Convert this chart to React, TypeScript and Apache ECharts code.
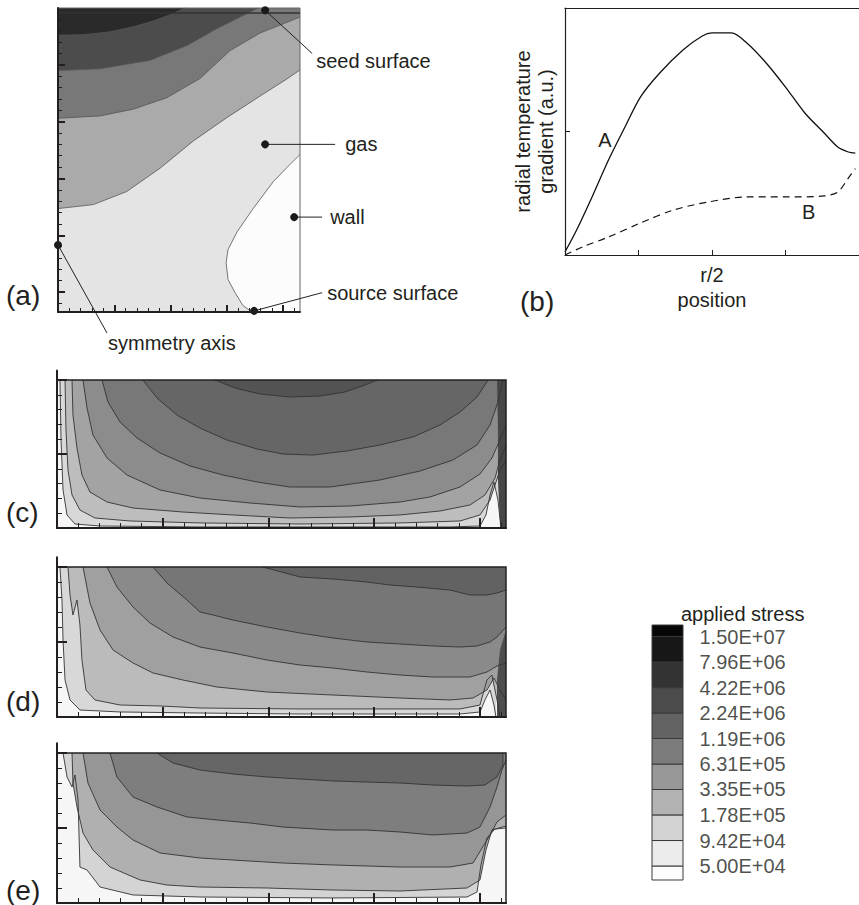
import React, { useEffect, useRef } from 'react';
import * as echarts from 'echarts';

const FONT = '"Liberation Sans", Arial, Helvetica, sans-serif';
const INK = '#231f20';

// ---------------- Panel (a): growth cell, contour lines in axis units ----------------
const A_X = [0, 4.3];
const A_Y = [-0.35, 5];
const A_CURVE_1 = [[0, 4.52], [0.45, 4.53], [0.92, 4.58], [1.34, 4.67], [1.69, 4.77], [1.99, 4.88], [2.26, 5]];
const A_CURVE_2 = [[0, 3.9], [0.747, 3.93], [1.636, 4.08], [2.293, 4.34], [2.827, 4.64], [3.236, 4.84], [3.556, 5]];
const A_CURVE_3 = [[0, 3.06], [0.747, 3.1], [1.339, 3.22], [1.932, 3.42], [2.524, 3.76], [3.058, 4.25], [3.591, 4.56], [3.947, 4.7], [4.3, 4.84]];
const A_CURVE_4 = [[0, 1.47], [0.628, 1.54], [1.221, 1.77], [1.813, 2.18], [2.405, 2.66], [2.999, 3.07], [3.591, 3.45], [4.066, 3.75], [4.3, 3.91]];
const A_CURVE_5 = [[4.3, 2.42], [4.124, 2.25], [3.822, 1.94], [3.467, 1.47], [3.182, 1.06], [3.022, 0.75], [2.987, 0.52], [3.022, 0.22], [3.147, -0.01], [3.289, -0.24], [3.449, -0.35]];
const A_SEED_LINE = [[0, 4.91], [4.3, 4.91]];
const A_MAJOR_X = [1, 2, 3, 4];
const A_MINOR_X = [0.2, 0.4, 0.6, 0.8, 1.2, 1.4, 1.6, 1.8, 2.2, 2.4, 2.6, 2.8, 3.2, 3.4, 3.6, 3.8, 4.2];
const A_MAJOR_Y = [0, 1, 2, 3, 4];
const A_MINOR_Y = [-0.2, 0.2, 0.4, 0.6, 0.8, 1.2, 1.4, 1.6, 1.8, 2.2, 2.4, 2.6, 2.8, 3.2, 3.4, 3.6, 3.8, 4.2, 4.4, 4.6, 4.8];
const A_ANNOT_TEXT = ['seed surface', 'gas', 'wall', 'source surface', 'symmetry axis'];
const A_ANNOT_DOT = [[3.68, 4.96], [3.68, 2.6], [4.196, 1.32], [3.484, -0.33], [0, 0.83]];
const A_ANNOT_END = [[4.516, 4.2], [4.924, 2.6], [4.693, 1.32], [4.693, -0.01], [0.871, -0.72]];
const A_ANNOT_AT = [[4.587, 4.076], [5.102, 2.6], [4.836, 1.32], [4.782, -0.01], [0.889, -0.9]];

// ---------------- Panel (b): radial temperature gradient ----------------
const B_X = [0, 4];
const B_Y = [0, 2];
const B_CURVE_A = [[0, 0.024], [0.158, 0.202], [0.368, 0.47], [0.592, 0.769], [0.816, 1.036], [1.026, 1.279], [1.289, 1.474], [1.605, 1.66], [1.868, 1.773], [2.0, 1.798], [2.263, 1.798], [2.474, 1.717], [2.737, 1.555], [3.0, 1.36], [3.263, 1.15], [3.526, 0.988], [3.711, 0.874], [3.855, 0.834], [3.95, 0.825]];
const B_CURVE_B = [[0, 0], [0.238, 0.065], [0.592, 0.146], [1.026, 0.259], [1.474, 0.364], [1.947, 0.429], [2.474, 0.47], [3.0, 0.47], [3.526, 0.478], [3.711, 0.51], [3.855, 0.623], [3.95, 0.7]];
const B_TICKS_X = [1, 2, 3];
const B_LABEL_X = [2];
const B_TICKS_Y = [1];
const B_CURVE_NAMES = ['A', 'B'];
const B_CURVE_NAME_AT = [[0.542, 0.931], [3.316, 0.348]];

// ---------------- Panels (c), (d), (e): applied stress contours ----------------
const S_X = [0, 4.246];
const S_Y = [0, 2];
const S_AXIS_YMAX = 2.13;
const S_MAJOR_X = [1, 2, 3, 4];
const S_MINOR_X = [0.2, 0.4, 0.6, 0.8, 1.2, 1.4, 1.6, 1.8, 2.2, 2.4, 2.6, 2.8, 3.2, 3.4, 3.6, 3.8, 4.2];
const S_MAJOR_Y = [1, 2];
const S_MINOR_Y = [0.2, 0.4, 0.6, 0.8, 1.2, 1.4, 1.6, 1.8];

const C_LINE_0 = [[1.494, 2.0], [1.683, 1.892], [1.92, 1.811], [2.203, 1.77], [2.487, 1.784], [2.723, 1.838], [2.913, 1.932], [3.026, 2.0]];
const C_LINE_1 = [[0.813, 2.0], [0.946, 1.757], [1.135, 1.527], [1.352, 1.351], [1.608, 1.189], [1.891, 1.068], [2.137, 1.0], [2.421, 0.986], [2.742, 1.041], [3.054, 1.122], [3.366, 1.23], [3.622, 1.392], [3.811, 1.568], [3.972, 1.77], [4.076, 2.0]];
const C_LINE_2 = [[0.426, 2.0], [0.482, 1.703], [0.596, 1.432], [0.757, 1.216], [0.974, 1.014], [1.258, 0.838], [1.57, 0.716], [1.891, 0.622], [2.203, 0.554], [2.582, 0.554], [3.054, 0.649], [3.433, 0.77], [3.745, 0.919], [3.972, 1.122], [4.095, 1.392], [4.17, 1.703], [4.217, 2.0]];
const C_LINE_3 = [[0.246, 2.0], [0.284, 1.622], [0.34, 1.257], [0.473, 0.946], [0.662, 0.716], [0.974, 0.514], [1.352, 0.405], [1.825, 0.338], [2.298, 0.284], [2.771, 0.297], [3.243, 0.351], [3.527, 0.419], [3.811, 0.554], [4.0, 0.73], [4.113, 0.946], [4.189, 1.189], [4.246, 1.392]];
const C_LINE_4 = [[0.142, 2.0], [0.151, 1.527], [0.189, 1.081], [0.236, 0.716], [0.312, 0.486], [0.473, 0.351], [0.719, 0.27], [1.191, 0.216], [1.664, 0.176], [2.203, 0.135], [2.771, 0.149], [3.243, 0.176], [3.622, 0.23], [3.905, 0.311], [4.047, 0.446], [4.142, 0.676], [4.189, 0.919], [4.246, 1.122]];
const C_LINE_5 = [[0.076, 2.0], [0.085, 1.324], [0.104, 0.784], [0.142, 0.446], [0.217, 0.243], [0.359, 0.135], [0.69, 0.095], [1.352, 0.068], [2.298, 0.054], [3.243, 0.068], [3.811, 0.095], [4.0, 0.176], [4.095, 0.378], [4.142, 0.581], [4.189, 0.784], [4.246, 0.919]];
const C_LINE_6 = [[0.028, 2.0], [0.038, 1.189], [0.057, 0.514], [0.095, 0.176], [0.17, 0.054], [0.407, 0.027], [1.352, 0.014], [3.716, 0.014], [4.0, 0.027], [4.057, 0.176], [4.095, 0.446], [4.132, 0.622], [4.17, 0.378], [4.189, 0.135], [4.208, 0]];
const C_WALL = [[4.161, 2.0], [4.17, 1.324], [4.17, 0.649], [4.19, 0]];

const D_LINE_1 = [[1.948, 2.0], [2.298, 1.867], [2.61, 1.84], [2.931, 1.8], [3.149, 1.76], [3.404, 1.733], [3.716, 1.693], [3.905, 1.627], [4.066, 1.627], [4.161, 1.653], [4.246, 1.693]];
const D_LINE_2 = [[0.908, 2.0], [1.04, 1.787], [1.229, 1.56], [1.352, 1.4], [1.475, 1.36], [1.664, 1.293], [1.986, 1.2], [2.298, 1.12], [2.61, 1.053], [2.931, 1.0], [3.243, 0.973], [3.556, 0.947], [3.811, 0.933], [3.972, 0.947], [4.095, 1.0], [4.161, 1.067], [4.246, 1.2]];
const D_LINE_3 = [[0.473, 2.0], [0.567, 1.733], [0.719, 1.467], [0.879, 1.253], [1.097, 1.067], [1.352, 0.933], [1.664, 0.853], [1.986, 0.76], [2.298, 0.693], [2.61, 0.653], [2.931, 0.6], [3.243, 0.56], [3.556, 0.533], [3.905, 0.533], [4.066, 0.6], [4.161, 0.68], [4.246, 0.72]];
const D_LINE_4 = [[0.246, 2.0], [0.312, 1.52], [0.407, 1.16], [0.53, 0.893], [0.719, 0.72], [0.908, 0.587], [1.191, 0.493], [1.513, 0.4], [1.986, 0.333], [2.61, 0.293], [3.243, 0.253], [3.716, 0.227], [3.934, 0.253], [4.066, 0.36], [4.132, 0.52], [4.189, 0.36], [4.246, 0.227]];
const D_LINE_5 = [[0.104, 2.0], [0.123, 1.627], [0.151, 1.36], [0.189, 1.56], [0.217, 1.227], [0.236, 0.76], [0.274, 0.36], [0.359, 0.227], [0.596, 0.16], [0.974, 0.147], [1.352, 0.12], [2.298, 0.107], [3.243, 0.107], [3.811, 0.107], [4.0, 0.16], [4.066, 0.493], [4.113, 0.56], [4.161, 0.227], [4.189, 0]];
const D_LINE_6 = [[0.028, 2.0], [0.047, 1.56], [0.057, 1.027], [0.076, 0.493], [0.123, 0.227], [0.217, 0.093], [0.596, 0.067], [1.352, 0.053], [2.298, 0.04], [3.811, 0.04], [4.0, 0.067], [4.047, 0.227], [4.095, 0.36], [4.132, 0.16], [4.151, 0]];
const D_WALL = [[4.246, 1.16], [4.189, 0.893], [4.161, 0.493], [4.161, 0]];

const E_LINE_1 = [[0.946, 2.0], [1.097, 1.867], [1.352, 1.773], [1.664, 1.72], [1.986, 1.68], [2.298, 1.653], [2.61, 1.627], [2.931, 1.613], [3.243, 1.6], [3.556, 1.573], [3.877, 1.56], [4.047, 1.573], [4.161, 1.68], [4.217, 1.84], [4.217, 2.0]];
const E_LINE_2 = [[0.501, 2.0], [0.567, 1.68], [0.719, 1.413], [0.946, 1.28], [1.229, 1.147], [1.513, 1.107], [1.825, 1.067], [2.137, 1.013], [2.61, 0.973], [2.931, 0.973], [3.243, 0.947], [3.556, 0.907], [3.877, 0.933], [4.0, 1.013], [4.095, 1.28], [4.161, 1.547], [4.208, 1.773], [4.246, 1.907]];
const E_LINE_3 = [[0.246, 2.0], [0.293, 1.6], [0.407, 1.24], [0.567, 1.013], [0.719, 0.84], [0.974, 0.667], [1.352, 0.6], [1.664, 0.573], [2.137, 0.533], [2.61, 0.507], [3.243, 0.48], [3.716, 0.48], [3.934, 0.533], [4.095, 0.907], [4.161, 1.08], [4.246, 1.173]];
const E_LINE_4 = [[0.142, 2.0], [0.151, 1.6], [0.189, 1.28], [0.246, 0.933], [0.34, 0.707], [0.501, 0.48], [0.785, 0.307], [1.04, 0.24], [1.352, 0.213], [1.986, 0.2], [2.61, 0.173], [3.243, 0.16], [3.877, 0.2], [4.0, 0.307], [4.057, 0.707], [4.113, 0.973], [4.246, 1.027]];
const E_LINE_5 = [[0.057, 2.0], [0.095, 1.68], [0.142, 1.547], [0.17, 1.707], [0.199, 1.373], [0.217, 0.48], [0.284, 0.44], [0.407, 0.213], [0.719, 0.107], [1.352, 0.08], [2.61, 0.067], [3.877, 0.08], [3.972, 0.147], [4.009, 0.507], [4.066, 0.867], [4.142, 0.987], [4.246, 1.0]];

// ---------------- Legend: applied stress levels ----------------
const LEGEND_EDGES = [3.53e4, 5.0e4, 9.42e4, 1.78e5, 3.35e5, 6.31e5, 1.19e6, 2.24e6, 4.22e6, 7.96e6, 1.5e7, 2.0e7];
const LEGEND_LEVELS = [1.5e7, 7.96e6, 4.22e6, 2.24e6, 1.19e6, 6.31e5, 3.35e5, 1.78e5, 9.42e4, 5.0e4];
const LEGEND_COLORS = ['#fcfcfc', '#ececec', '#d2d2d2', '#b3b3b3', '#989898', '#7c7c7c', '#636363', '#4b4b4b', '#333333', '#171717', '#070707'];

type Layer = { pts: number[][]; fill: string; close: 'top' | 'right'; stroke: boolean };

function fmtSci(v: number): string {
  const s = v.toExponential(2).toUpperCase();
  return s.replace(/E([+-])(\d)$/, 'E$10$2');
}

function contourSeries(axis: number, layers: Layer[], dx: number[], dy: number[], lineColor: string, lineWidth: number, frameColor: string, frameWidth: number) {
  return {
    type: 'custom',
    xAxisIndex: axis,
    yAxisIndex: axis,
    silent: true,
    z: 2,
    data: [[dx[0], dy[0]]],
    renderItem: (_p: any, api: any) => {
      const children: any[] = [];
      layers.forEach((L) => {
        const first = L.pts[0];
        const last = L.pts[L.pts.length - 1];
        const ring = L.close === 'top'
          ? [...L.pts, [last[0], dy[1]], [first[0], dy[1]]]
          : [...L.pts, [dx[1], last[1]], [dx[1], first[1]]];
        children.push({ type: 'polygon', shape: { points: ring.map((p) => api.coord(p)) }, style: { fill: L.fill } });
      });
      layers.forEach((L) => {
        if (!L.stroke) return;
        children.push({ type: 'polyline', shape: { points: L.pts.map((p) => api.coord(p)) }, style: { stroke: lineColor, lineWidth, fill: 'none' } });
      });
      const frame = [[dx[0], dy[0]], [dx[1], dy[0]], [dx[1], dy[1]], [dx[0], dy[1]]];
      children.push({ type: 'polygon', shape: { points: frame.map((p) => api.coord(p)) }, style: { fill: 'none', stroke: frameColor, lineWidth: frameWidth } });
      return { type: 'group', children };
    },
  };
}

function majorAxis(grid: number, min: number, max: number, ticks: number[], len: number, width: number) {
  return {
    gridIndex: grid, type: 'value', min, max, z: 10,
    axisLine: { show: true, onZero: false, lineStyle: { color: INK, width } },
    axisTick: { show: true, inside: true, length: len, customValues: ticks, lineStyle: { color: INK, width } },
    axisLabel: { show: false }, splitLine: { show: false },
  };
}
function minorAxis(grid: number, min: number, max: number, ticks: number[], len: number) {
  return {
    gridIndex: grid, type: 'value', min, max, z: 10,
    axisLine: { show: false, onZero: false },
    axisTick: { show: true, inside: true, length: len, customValues: ticks, lineStyle: { color: INK, width: 1 } },
    axisLabel: { show: false }, splitLine: { show: false },
  };
}

function buildOption() {
  const aGrid = { left: 58, top: 8, width: 242, height: 304 };
  const cGrid = { left: 57, top: 370.4, width: 449, height: 157.6 };
  const dGrid = { left: 57, top: 557.25, width: 449, height: 159.75 };
  const eGrid = { left: 57, top: 743.25, width: 449, height: 159.75 };

  const aLayers: Layer[] = [
    { pts: [[A_X[0], A_Y[0]], [A_X[1], A_Y[0]]], fill: '#e4e4e4', close: 'top', stroke: false },
    { pts: A_CURVE_5, fill: '#fcfcfc', close: 'right', stroke: true },
    { pts: A_CURVE_4, fill: '#aaaaaa', close: 'top', stroke: true },
    { pts: A_CURVE_3, fill: '#787878', close: 'top', stroke: true },
    { pts: A_CURVE_2, fill: '#4c4c4c', close: 'top', stroke: true },
    { pts: A_CURVE_1, fill: '#2a2a2a', close: 'top', stroke: true },
  ];
  const base = (): Layer => ({ pts: [[S_X[0], S_Y[0]], [S_X[1], S_Y[0]]], fill: '#f6f6f6', close: 'top', stroke: false });
  const cLayers: Layer[] = [
    base(),
    { pts: C_LINE_6, fill: '#d8d8d8', close: 'top', stroke: true },
    { pts: C_LINE_5, fill: '#bdbdbd', close: 'top', stroke: true },
    { pts: C_LINE_4, fill: '#a3a3a3', close: 'top', stroke: true },
    { pts: C_LINE_3, fill: '#8c8c8c', close: 'top', stroke: true },
    { pts: C_LINE_2, fill: '#787878', close: 'top', stroke: true },
    { pts: C_LINE_1, fill: '#666666', close: 'top', stroke: true },
    { pts: C_LINE_0, fill: '#535353', close: 'top', stroke: true },
    { pts: C_WALL, fill: '#474747', close: 'right', stroke: false },
  ];
  const dLayers: Layer[] = [
    base(),
    { pts: D_LINE_6, fill: '#d8d8d8', close: 'top', stroke: true },
    { pts: D_LINE_5, fill: '#bbbbbb', close: 'top', stroke: true },
    { pts: D_LINE_4, fill: '#a0a0a0', close: 'top', stroke: true },
    { pts: D_LINE_3, fill: '#8a8a8a', close: 'top', stroke: true },
    { pts: D_LINE_2, fill: '#767676', close: 'top', stroke: true },
    { pts: D_LINE_1, fill: '#626262', close: 'top', stroke: true },
    { pts: D_WALL, fill: '#4e4e4e', close: 'right', stroke: false },
  ];
  const eLayers: Layer[] = [
    base(),
    { pts: E_LINE_5, fill: '#d4d4d4', close: 'top', stroke: true },
    { pts: E_LINE_4, fill: '#b0b0b0', close: 'top', stroke: true },
    { pts: E_LINE_3, fill: '#969696', close: 'top', stroke: true },
    { pts: E_LINE_2, fill: '#7e7e7e', close: 'top', stroke: true },
    { pts: E_LINE_1, fill: '#666666', close: 'top', stroke: true },
  ];

  const titleStyle = { fontSize: 28, fontWeight: 'normal', color: INK, fontFamily: FONT, lineHeight: 32 };

  return {
    animation: false,
    backgroundColor: '#ffffff',
    textStyle: { fontFamily: FONT, color: INK },
    title: [
      { text: '(a)', left: 6, top: 279, padding: 0, textStyle: titleStyle },
      { text: '(b)', left: 520, top: 285, padding: 0, textStyle: titleStyle },
      { text: '(c)', left: 6, top: 496, padding: 0, textStyle: titleStyle },
      { text: '(d)', left: 6, top: 685, padding: 0, textStyle: titleStyle },
      { text: '(e)', left: 6, top: 874, padding: 0, textStyle: titleStyle },
      { text: 'applied stress', left: 681, top: 602, padding: 0, textStyle: { fontSize: 20, fontWeight: 'normal', color: INK, fontFamily: FONT, lineHeight: 24 } },
    ],
    grid: [
      aGrid,
      { left: 565, top: 8, width: 303, height: 247 },
      cGrid, dGrid, eGrid,
      { left: 652, top: 625, width: 31, height: 255 },
      aGrid, cGrid, dGrid, eGrid,
    ],
    xAxis: [
      majorAxis(0, A_X[0], A_X[1], A_MAJOR_X, 7, 2),
      {
        gridIndex: 1, type: 'value', min: B_X[0], max: B_X[1], z: 10,
        axisLine: { show: true, onZero: false, lineStyle: { color: INK, width: 1.2 } },
        axisTick: { show: true, inside: true, length: 5, customValues: B_TICKS_X, lineStyle: { color: INK, width: 1 } },
        axisLabel: { show: true, customValues: B_LABEL_X, formatter: () => 'r/2', fontSize: 20, color: INK, margin: 8, lineHeight: 24 },
        splitLine: { show: false },
        name: 'position', nameLocation: 'middle', nameGap: 33,
        nameTextStyle: { fontSize: 20, color: INK, lineHeight: 24 },
      },
      majorAxis(2, S_X[0], S_X[1], S_MAJOR_X, 10, 2),
      majorAxis(3, S_X[0], S_X[1], S_MAJOR_X, 10, 2),
      majorAxis(4, S_X[0], S_X[1], S_MAJOR_X, 10, 2),
      { gridIndex: 5, type: 'value', min: 0, max: 1, show: false },
      minorAxis(6, A_X[0], A_X[1], A_MINOR_X, 4),
      minorAxis(7, S_X[0], S_X[1], S_MINOR_X, 5),
      minorAxis(8, S_X[0], S_X[1], S_MINOR_X, 5),
      minorAxis(9, S_X[0], S_X[1], S_MINOR_X, 5),
      {
        gridIndex: 1, type: 'value', min: B_X[0], max: B_X[1], position: 'top', z: 10,
        axisLine: { show: true, onZero: false, lineStyle: { color: INK, width: 1.2 } },
        axisTick: { show: false }, axisLabel: { show: false }, splitLine: { show: false },
      },
    ],
    yAxis: [
      majorAxis(0, A_Y[0], A_Y[1], A_MAJOR_Y, 7, 2),
      {
        gridIndex: 1, type: 'value', min: B_Y[0], max: B_Y[1], z: 10,
        axisLine: { show: true, onZero: false, lineStyle: { color: INK, width: 1.2 } },
        axisTick: { show: true, inside: true, length: 5, customValues: B_TICKS_Y, lineStyle: { color: INK, width: 1 } },
        axisLabel: { show: false }, splitLine: { show: false },
        name: 'radial temperature\ngradient (a.u.)', nameLocation: 'middle', nameGap: 8,
        nameTextStyle: { fontSize: 20, color: INK, lineHeight: 23 },
      },
      majorAxis(2, 0, S_AXIS_YMAX, S_MAJOR_Y, 10, 2),
      majorAxis(3, 0, S_AXIS_YMAX, S_MAJOR_Y, 10, 2),
      majorAxis(4, 0, S_AXIS_YMAX, S_MAJOR_Y, 10, 2),
      { gridIndex: 5, type: 'log', min: LEGEND_EDGES[0], max: LEGEND_EDGES[LEGEND_EDGES.length - 1], show: false },
      minorAxis(6, A_Y[0], A_Y[1], A_MINOR_Y, 4),
      minorAxis(7, 0, S_AXIS_YMAX, S_MINOR_Y, 5),
      minorAxis(8, 0, S_AXIS_YMAX, S_MINOR_Y, 5),
      minorAxis(9, 0, S_AXIS_YMAX, S_MINOR_Y, 5),
    ],
    series: [
      contourSeries(0, aLayers, A_X, A_Y, '#555555', 0.8, '#666666', 1),
      {
        type: 'line', xAxisIndex: 0, yAxisIndex: 0, data: A_SEED_LINE, showSymbol: false, silent: true, z: 3,
        lineStyle: { color: '#333333', width: 1.5 },
      },
      {
        type: 'custom', xAxisIndex: 0, yAxisIndex: 0, silent: true, z: 4,
        data: A_ANNOT_DOT.map((d, i) => [d[0], d[1], A_ANNOT_END[i][0], A_ANNOT_END[i][1], A_ANNOT_AT[i][0], A_ANNOT_AT[i][1]]),
        encode: { x: [0, 2, 4], y: [1, 3, 5] },
        renderItem: (params: any, api: any) => {
          const dot = api.coord([api.value(0), api.value(1)]);
          const end = api.coord([api.value(2), api.value(3)]);
          const at = api.coord([api.value(4), api.value(5)]);
          return {
            type: 'group',
            children: [
              { type: 'line', shape: { x1: dot[0], y1: dot[1], x2: end[0], y2: end[1] }, style: { stroke: '#222222', lineWidth: 1 } },
              { type: 'circle', shape: { cx: dot[0], cy: dot[1], r: 4 }, style: { fill: '#1a1a1a' } },
              { type: 'text', x: at[0], y: at[1], style: { text: A_ANNOT_TEXT[params.dataIndex], fontSize: 20, fontFamily: FONT, fill: INK, align: 'left', verticalAlign: 'middle' } },
            ],
          };
        },
      },
      {
        type: 'line', name: 'A', xAxisIndex: 1, yAxisIndex: 1, data: B_CURVE_A, showSymbol: false, smooth: 0.3, silent: true,
        lineStyle: { color: '#111111', width: 1.3 },
      },
      {
        type: 'line', name: 'B', xAxisIndex: 1, yAxisIndex: 1, data: B_CURVE_B, showSymbol: false, smooth: 0.3, silent: true,
        lineStyle: { color: '#111111', width: 1.2, type: [7, 5] },
      },
      {
        type: 'custom', xAxisIndex: 1, yAxisIndex: 1, silent: true,
        data: B_CURVE_NAME_AT,
        renderItem: (params: any, api: any) => {
          const at = api.coord([api.value(0), api.value(1)]);
          return { type: 'text', x: at[0], y: at[1], style: { text: B_CURVE_NAMES[params.dataIndex], fontSize: 20, fontFamily: FONT, fill: INK, align: 'center', verticalAlign: 'middle' } };
        },
      },
      contourSeries(2, cLayers, S_X, S_Y, '#333333', 0.9, '#222222', 1.5),
      contourSeries(3, dLayers, S_X, S_Y, '#333333', 0.9, '#222222', 1.5),
      contourSeries(4, eLayers, S_X, S_Y, '#333333', 0.9, '#222222', 1.5),
      {
        type: 'custom', xAxisIndex: 5, yAxisIndex: 5, silent: true,
        data: LEGEND_COLORS.map((_c, i) => [0, LEGEND_EDGES[i], 1, LEGEND_EDGES[i + 1]]),
        encode: { x: [0, 2], y: [1, 3] },
        renderItem: (params: any, api: any) => {
          const p0 = api.coord([api.value(0), api.value(1)]);
          const p1 = api.coord([api.value(2), api.value(3)]);
          return {
            type: 'rect',
            shape: { x: p0[0], y: p1[1], width: p1[0] - p0[0], height: p0[1] - p1[1] },
            style: { fill: LEGEND_COLORS[params.dataIndex], stroke: '#3a3a3a', lineWidth: 1 },
          };
        },
      },
      {
        type: 'scatter', xAxisIndex: 5, yAxisIndex: 5, silent: true,
        data: LEGEND_LEVELS.map((v) => [1, v]),
        symbolSize: 1, itemStyle: { color: 'rgba(0,0,0,0)' },
        label: {
          show: true, position: 'right', distance: 16, fontSize: 20, color: INK, fontFamily: FONT,
          formatter: (p: any) => fmtSci(p.value[1]),
        },
      },
    ],
  };
}

export default function App() {
  const ref = useRef<HTMLDivElement>(null);
  useEffect(() => {
    const chart = echarts.init(ref.current!, null, { renderer: 'svg' });
    chart.setOption(buildOption() as any);
    return () => chart.dispose();
  }, []);
  return <div ref={ref} style={{ position: 'absolute', left: 0, top: 0, width: 859, height: 905, background: '#ffffff' }} />;
}
